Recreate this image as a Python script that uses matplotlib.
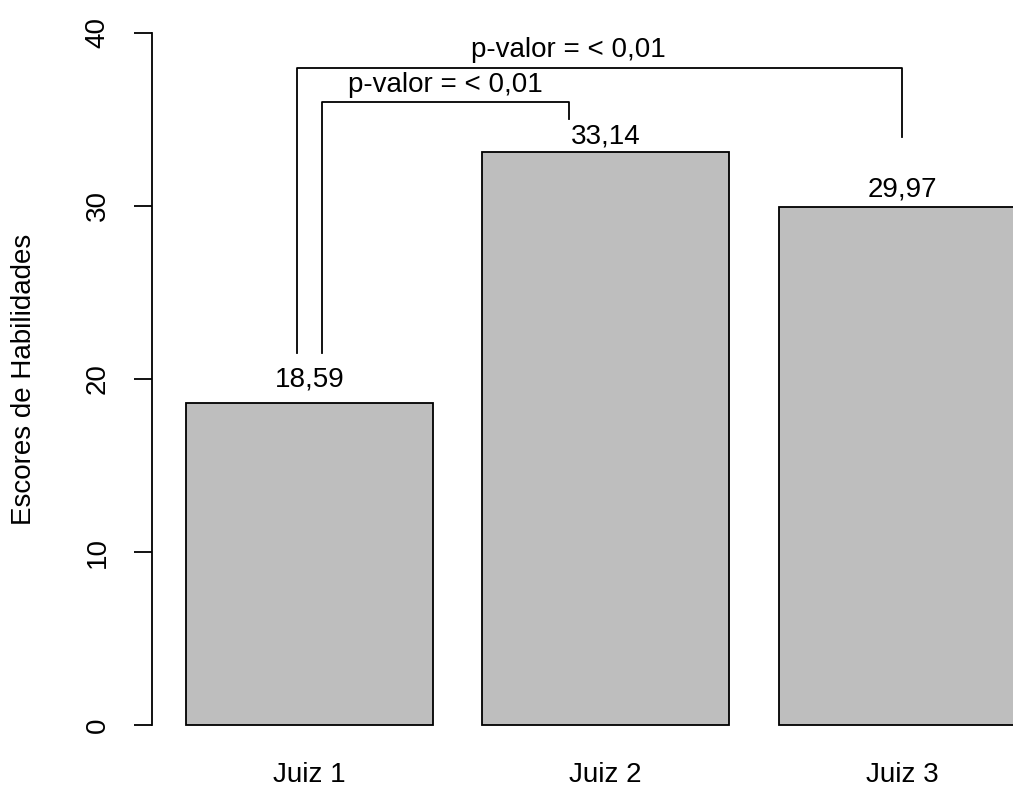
import matplotlib.pyplot as plt

# bar data
judges = ["Juiz 1", "Juiz 2", "Juiz 3"]
scores = [18.59, 33.14, 29.97]
score_labels = ["18,59", "33,14", "29,97"]
p_text = "p-valor = < 0,01"

plt.rcParams['font.family'] = ['Liberation Sans', 'DejaVu Sans']

fig = plt.figure(figsize=(10.13, 7.89), dpi=100)
ax = fig.add_axes([0.1504, 0.046, 0.895, 0.9473])

# R-style barplot positions: width 1, space 0.2
centers = [0.7 + 1.2 * i for i in range(len(scores))]
ax.bar(centers, scores, width=1.0, color='#BEBEBE', edgecolor='black', linewidth=1.3)

# value labels above bars
label_pad = [1.4, 0.9, 1.0]
for c, s, lab, pad in zip(centers, scores, score_labels, label_pad):
    ax.text(c, s + pad, lab, ha='center', va='center', fontsize=20)

# significance brackets
lw = 1.3
ax.plot([0.65, 0.65, 3.1, 3.1], [21.5, 38.0, 38.0, 34.0], color='black', lw=lw, clip_on=False)
ax.text(1.75, 39.0, p_text, ha='center', va='center', fontsize=20)
ax.plot([0.75, 0.75, 1.75, 1.75], [21.5, 36.0, 36.0, 35.0], color='black', lw=lw, clip_on=False)
ax.text(1.25, 37.0, p_text, ha='center', va='center', fontsize=20)

ax.set_xlim(0.064, 3.736)
ax.set_ylim(-1.6, 41.6)
for side in ['top', 'right', 'bottom']:
    ax.spines[side].set_visible(False)
ax.spines['left'].set_bounds(0, 40)
ax.spines['left'].set_linewidth(1.3)

ax.set_yticks([0, 10, 20, 30, 40])
ax.tick_params(axis='y', length=13, width=1.3, pad=17, labelsize=20)
for t in ax.get_yticklabels():
    t.set_rotation(90)
    t.set_va('center')

ax.set_xticks(centers)
ax.set_xticklabels(judges)
ax.tick_params(axis='x', length=0, pad=6.5, labelsize=20)

ax.set_ylabel("Escores de Habilidades", fontsize=20, labelpad=34)

fig.savefig("out.png", dpi=100)
